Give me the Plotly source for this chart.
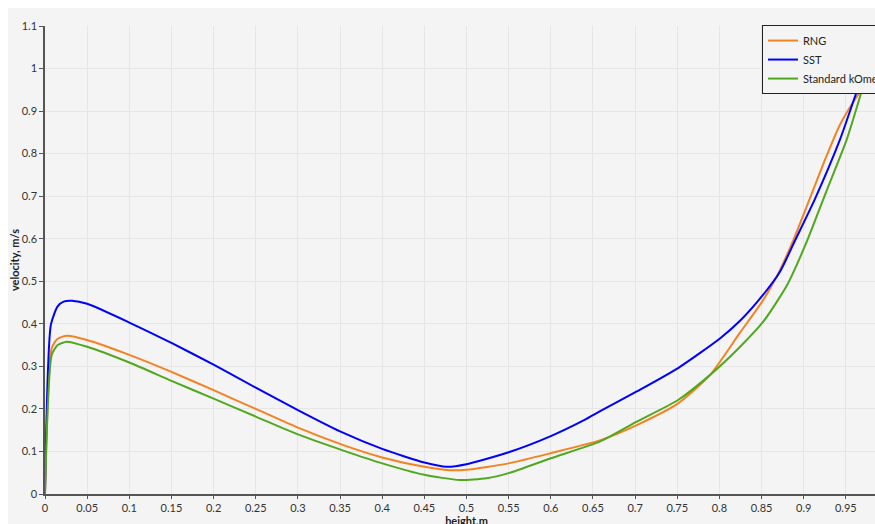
import plotly.graph_objects as go

# ---- data ----
sst_x = [0, 0.007, 0.015, 0.022, 0.032, 0.05, 0.1, 0.15, 0.2, 0.25, 0.3, 0.35, 0.4, 0.45, 0.4765,
         0.5, 0.55, 0.6, 0.64, 0.658, 0.702, 0.751, 0.801, 0.826, 0.851, 0.872, 0.89, 0.913, 0.943, 0.969, 0.985]
sst_y = [0, 0.398, 0.441, 0.452, 0.454, 0.447, 0.403, 0.355, 0.304, 0.25, 0.197, 0.147, 0.106, 0.074, 0.064,
         0.07, 0.098, 0.136, 0.174, 0.194, 0.241, 0.296, 0.366, 0.41, 0.466, 0.523, 0.597, 0.692, 0.833, 0.978, 1.04]

rng_x = [0, 0.008, 0.015, 0.026, 0.05, 0.1, 0.15, 0.2, 0.25, 0.3, 0.354, 0.4, 0.45, 0.48, 0.5, 0.55, 0.6,
         0.658, 0.702, 0.751, 0.789, 0.824, 0.852, 0.868, 0.888, 0.927, 0.943, 0.96, 0.971, 0.979, 0.985]
rng_y = [0, 0.343, 0.365, 0.372, 0.362, 0.327, 0.287, 0.244, 0.2, 0.156, 0.115, 0.086, 0.064, 0.056, 0.057,
         0.072, 0.096, 0.126, 0.162, 0.213, 0.28, 0.378, 0.456, 0.511, 0.598, 0.794, 0.868, 0.925, 0.955, 0.97, 0.975]

kom_x = [0, 0.008, 0.015, 0.026, 0.05, 0.1, 0.15, 0.2, 0.25, 0.3, 0.354, 0.4, 0.45, 0.492, 0.524, 0.55, 0.6,
         0.658, 0.702, 0.751, 0.789, 0.824, 0.852, 0.88, 0.903, 0.927, 0.951, 0.967, 0.975, 0.985]
kom_y = [0, 0.327, 0.35, 0.358, 0.346, 0.309, 0.266, 0.224, 0.182, 0.14, 0.102, 0.072, 0.045, 0.033, 0.037,
         0.049, 0.084, 0.123, 0.17, 0.221, 0.28, 0.345, 0.405, 0.49, 0.59, 0.712, 0.833, 0.935, 0.99, 1.04]

series_names = ["RNG", "SST", "Standard kOmega"]
series_colors = ["#f58220", "#0000ff", "#4fa81e"]

BG = "#f4f4f4"
FONT = "Lato, 'DejaVu Sans', sans-serif"

fig = go.Figure()
for name, xs, ys, col in zip(series_names, [rng_x, sst_x, kom_x], [rng_y, sst_y, kom_y], series_colors):
    fig.add_trace(go.Scatter(x=xs, y=ys, mode="lines", name=name,
                             line=dict(color=col, width=2, shape="spline", smoothing=0.6)))

fig.update_layout(
    width=880, height=524,
    margin=dict(l=37, r=0, t=18, b=38, autoexpand=False),
    paper_bgcolor=BG,
    plot_bgcolor=BG,
    font=dict(family=FONT, size=11, color="#333"),
    showlegend=True,
    legend=dict(x=0.8505, y=1.002, xanchor="left", yanchor="top",
                bgcolor=BG, bordercolor="#222", borderwidth=1,
                font=dict(size=11, color="#222"), tracegroupgap=0,
                itemwidth=30),
)
fig.update_xaxes(range=[0, 1], dtick=0.05, tick0=0, showgrid=True, gridcolor="#e6e6e6",
                 showline=True, linecolor="#555", linewidth=1.5, ticks="outside", ticklen=3,
                 tickcolor="#555", zeroline=False, automargin=False,
                 title=dict(text="<b>height,m</b>", standoff=0, font=dict(size=11, color="#222")))
fig.update_yaxes(range=[0, 1.1], dtick=0.1, tick0=0, showgrid=True, gridcolor="#e6e6e6",
                 showline=True, linecolor="#555", linewidth=1.5, ticks="outside", ticklen=4,
                 tickcolor="#555", zeroline=False, automargin=False,
                 title=dict(text="<b>velocity, m/s</b>", standoff=4, font=dict(size=11, color="#222")))

fig.write_html(
    "out.html",
    post_script=(
        "document.body.style.margin='8px 0 0 8px';"
        "document.documentElement.style.overflow='hidden';"
        "document.body.style.overflow='visible';"
    ),
)
